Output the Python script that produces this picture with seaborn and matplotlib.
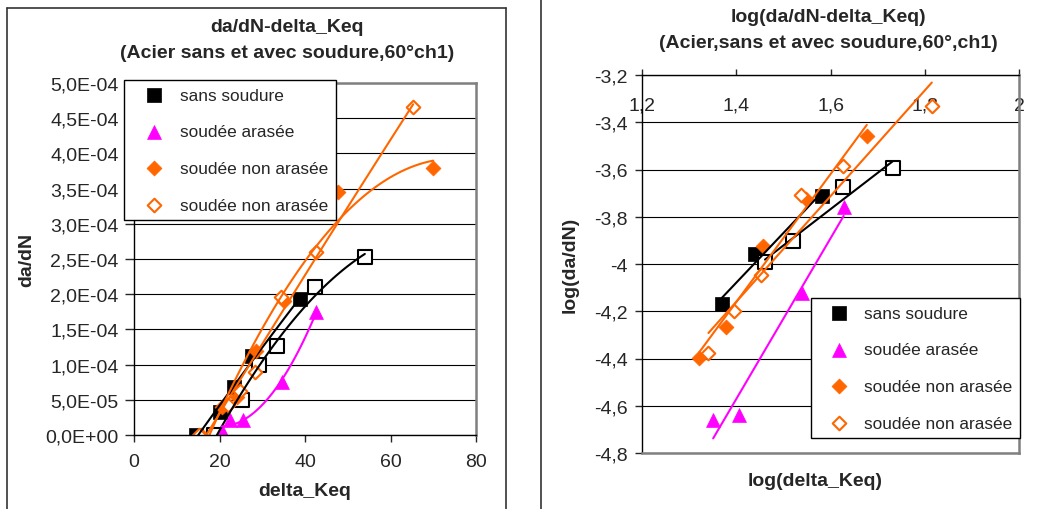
import numpy as np
import matplotlib
matplotlib.use("Agg")
import matplotlib.pyplot as plt
import seaborn as sns
from matplotlib.lines import Line2D
from matplotlib.ticker import FuncFormatter, MultipleLocator

# --- da/dN en fonction de delta_Keq
sans_dk = [14.5, 20.1, 23.3, 27.5, 38.8]
sans_dadn = [0.0, 3.3e-5, 6.8e-5, 1.12e-4, 1.93e-4]
sans2_dk = [18.8, 25.2, 29.2, 33.4, 42.3, 54.0]
sans2_dadn = [0.0, 5.0e-5, 1.0e-4, 1.26e-4, 2.1e-4, 2.53e-4]
aras_dk = [20.5, 22.4, 25.5, 34.6, 42.6]
aras_dadn = [5e-6, 2.2e-5, 2.2e-5, 7.5e-5, 1.75e-4]
nonar_dk = [15.6, 20.7, 24.0, 28.5, 35.2, 47.8, 70.0]
nonar_dadn = [0.0, 4.0e-5, 5.4e-5, 1.2e-4, 1.9e-4, 3.45e-4, 3.79e-4]
nonar2_dk = [15.2, 21.9, 24.8, 28.4, 34.4, 42.5, 65.3]
nonar2_dadn = [0.0, 4.2e-5, 6.3e-5, 9.0e-5, 1.96e-4, 2.6e-4, 4.66e-4]

# --- log(da/dN) en fonction de log(delta_Keq)
log_sans_x = [1.369, 1.440, 1.581]
log_sans_y = [-4.169, -3.958, -3.711]
log_sans2_x = [1.461, 1.521, 1.626, 1.732]
log_sans2_y = [-3.993, -3.901, -3.675, -3.595]
log_aras_x = [1.351, 1.406, 1.540, 1.628]
log_aras_y = [-4.659, -4.639, -4.123, -3.760]
log_nonar_x = [1.321, 1.378, 1.457, 1.549, 1.677]
log_nonar_y = [-4.399, -4.268, -3.922, -3.725, -3.457]
log_nonar2_x = [1.341, 1.396, 1.452, 1.537, 1.627, 1.815]
log_nonar2_y = [-4.377, -4.200, -4.045, -3.707, -3.584, -3.330]

legend_labels = ["sans soudure", "soudée arasée", "soudée non arasée", "soudée non arasée"]

ORANGE = "#FF6600"
MAGENTA = "#FF00FF"
GRAY = "#808080"

# style des 5 series: carre plein, carre vide, triangle, losange plein, losange vide
styles = [
    dict(marker="s", color="black", edgecolor="black", s=95, linewidth=0.5, line="black"),
    dict(marker="s", color="white", edgecolor="black", s=100, linewidth=1.5, line="black"),
    dict(marker="^", color=MAGENTA, edgecolor=MAGENTA, s=100, linewidth=0.5, line=MAGENTA),
    dict(marker="D", color=ORANGE, edgecolor=ORANGE, s=58, linewidth=0.5, line=ORANGE),
    dict(marker="D", color="white", edgecolor=ORANGE, s=48, linewidth=1.5, line=ORANGE),
]
# index de la serie -> entree de legende (la serie carre vide n'est pas dans la legende)
legend_of = {0: 0, 2: 1, 3: 2, 4: 3}

sns.set_style("white")
plt.rcParams["font.family"] = ["Liberation Sans", "DejaVu Sans"]

W, H = 1047, 510
fig = plt.figure(figsize=(W / 100, H / 100), dpi=100)


def px_axes(left, top, right, bottom):
    return fig.add_axes([left / W, 1 - bottom / H, (right - left) / W, (bottom - top) / H])


def fmt_sci(v, pos):
    return f"{v:.1E}".replace(".", ",")


def fmt_gen(v, pos):
    return f"{round(v, 3):g}".replace(".", ",")


def dessine(ax, data, order):
    handles = {}
    for i, ((x, y), st) in enumerate(zip(data, styles)):
        x = np.array(x)
        y = np.array(y)
        sns.scatterplot(x=x, y=y, marker=st["marker"], color=st["color"],
                        edgecolor=st["edgecolor"], s=st["s"], linewidth=st["linewidth"],
                        ax=ax, zorder=3, legend=False)
        if i in legend_of:
            handles[legend_of[i]] = ax.collections[-1]
        sns.regplot(x=x, y=y, order=order, ci=None, scatter=False, truncate=True,
                    color=st["line"], line_kws=dict(lw=1.5, zorder=4), ax=ax)
    ax.set_xlabel("")
    ax.set_ylabel("")
    return [handles[k] for k in range(4)]


def cadre(ax, axis_spines, gray_spines):
    for s in axis_spines:
        ax.spines[s].set_color("black")
        ax.spines[s].set_linewidth(1.0)
    for s in gray_spines:
        ax.spines[s].set_color(GRAY)
        ax.spines[s].set_linewidth(1.8)
    for s in ax.spines.values():
        s.set_visible(True)
        s.set_zorder(5)


# ---------------- graphique de gauche ----------------
ax1 = px_axes(134, 84, 476, 436)
h1 = dessine(ax1, [(sans_dk, sans_dadn), (sans2_dk, sans2_dadn), (aras_dk, aras_dadn),
                   (nonar_dk, nonar_dadn), (nonar2_dk, nonar2_dadn)], order=2)
ax1.set_xlim(0, 80)
ax1.set_ylim(0, 5e-4)
ax1.xaxis.set_major_locator(MultipleLocator(20))
ax1.yaxis.set_major_locator(MultipleLocator(5e-5))
ax1.yaxis.set_major_formatter(FuncFormatter(fmt_sci))
ax1.xaxis.set_major_formatter(FuncFormatter(fmt_gen))
ax1.tick_params(axis="y", direction="out", length=6.5, width=1, pad=4.5, labelsize=14, left=True)
ax1.tick_params(axis="x", direction="out", length=5, width=1, pad=8, labelsize=14, bottom=True)
ax1.grid(axis="y", color="black", lw=0.8)
ax1.set_axisbelow(True)
cadre(ax1, ["left", "bottom"], ["top", "right"])
ax1.legend(h1, legend_labels, loc="upper left", bbox_to_anchor=(124 / W, 1 - 81 / H),
           bbox_transform=fig.transFigure, borderaxespad=0, fontsize=12.4, frameon=True,
           fancybox=False, framealpha=1, edgecolor="black", borderpad=0.45,
           handlelength=2.6, handletextpad=0.2, labelspacing=1.25).set_zorder(10)

fig.text(287 / W, 1 - 27 / H, "da/dN-delta_Keq", ha="center", va="center",
         fontsize=14, fontweight="bold")
fig.text(287 / W, 1 - 53 / H, "(Acier sans et avec soudure,60°ch1)", ha="center",
         va="center", fontsize=14, fontweight="bold")
fig.text(305 / W, 1 - 492 / H, "delta_Keq", ha="center", va="center",
         fontsize=14, fontweight="bold")
fig.text(27 / W, 1 - 260 / H, "da/dN", ha="center", va="center", rotation=90,
         fontsize=14, fontweight="bold")

# ---------------- graphique de droite ----------------
ax2 = px_axes(642, 76, 1019, 454)
h2 = dessine(ax2, [(log_sans_x, log_sans_y), (log_sans2_x, log_sans2_y),
                   (log_aras_x, log_aras_y), (log_nonar_x, log_nonar_y),
                   (log_nonar2_x, log_nonar2_y)], order=1)
ax2.set_xlim(1.2, 2.0)
ax2.set_ylim(-4.8, -3.2)
ax2.xaxis.set_major_locator(MultipleLocator(0.2))
ax2.yaxis.set_major_locator(MultipleLocator(0.2))
ax2.xaxis.set_major_formatter(FuncFormatter(fmt_gen))
ax2.yaxis.set_major_formatter(FuncFormatter(fmt_gen))
ax2.tick_params(axis="y", direction="out", length=5, width=1, pad=5.5, labelsize=14, left=True)
ax2.tick_params(axis="x", direction="out", length=4, width=1, labelsize=14,
                top=True, bottom=False, labeltop=True, labelbottom=False, pad=-32)
ax2.grid(axis="y", color="black", lw=0.8)
ax2.set_axisbelow(True)
cadre(ax2, ["left", "top"], ["bottom", "right"])
ax2.legend(h2, legend_labels, loc="upper left", bbox_to_anchor=(811 / W, 1 - 299 / H),
           bbox_transform=fig.transFigure, borderaxespad=0, fontsize=12.4, frameon=True,
           fancybox=False, framealpha=1, edgecolor="black", borderpad=0.45,
           handlelength=2.3, handletextpad=0.35, labelspacing=1.25).set_zorder(10)

fig.text(828 / W, 1 - 17 / H, "log(da/dN-delta_Keq)", ha="center", va="center",
         fontsize=14, fontweight="bold")
fig.text(828 / W, 1 - 43 / H, "(Acier,sans et avec soudure,60°,ch1)", ha="center",
         va="center", fontsize=14, fontweight="bold")
fig.text(815 / W, 1 - 482 / H, "log(delta_Keq)", ha="center", va="center",
         fontsize=14, fontweight="bold")
fig.text(570 / W, 1 - 265 / H, "log(da/dN)", ha="center", va="center", rotation=90,
         fontsize=14, fontweight="bold")

# cadres des deux zones de graphique
for xs, ys in [([7, 7], [510, 9]), ([7, 506], [9, 9]), ([506, 506], [9, 510]),
               ([541, 541], [0, 510])]:
    fig.add_artist(Line2D([x / W for x in xs], [1 - y / H for y in ys],
                          color="#333333", lw=1.2))

fig.savefig("out.png", dpi=100)
